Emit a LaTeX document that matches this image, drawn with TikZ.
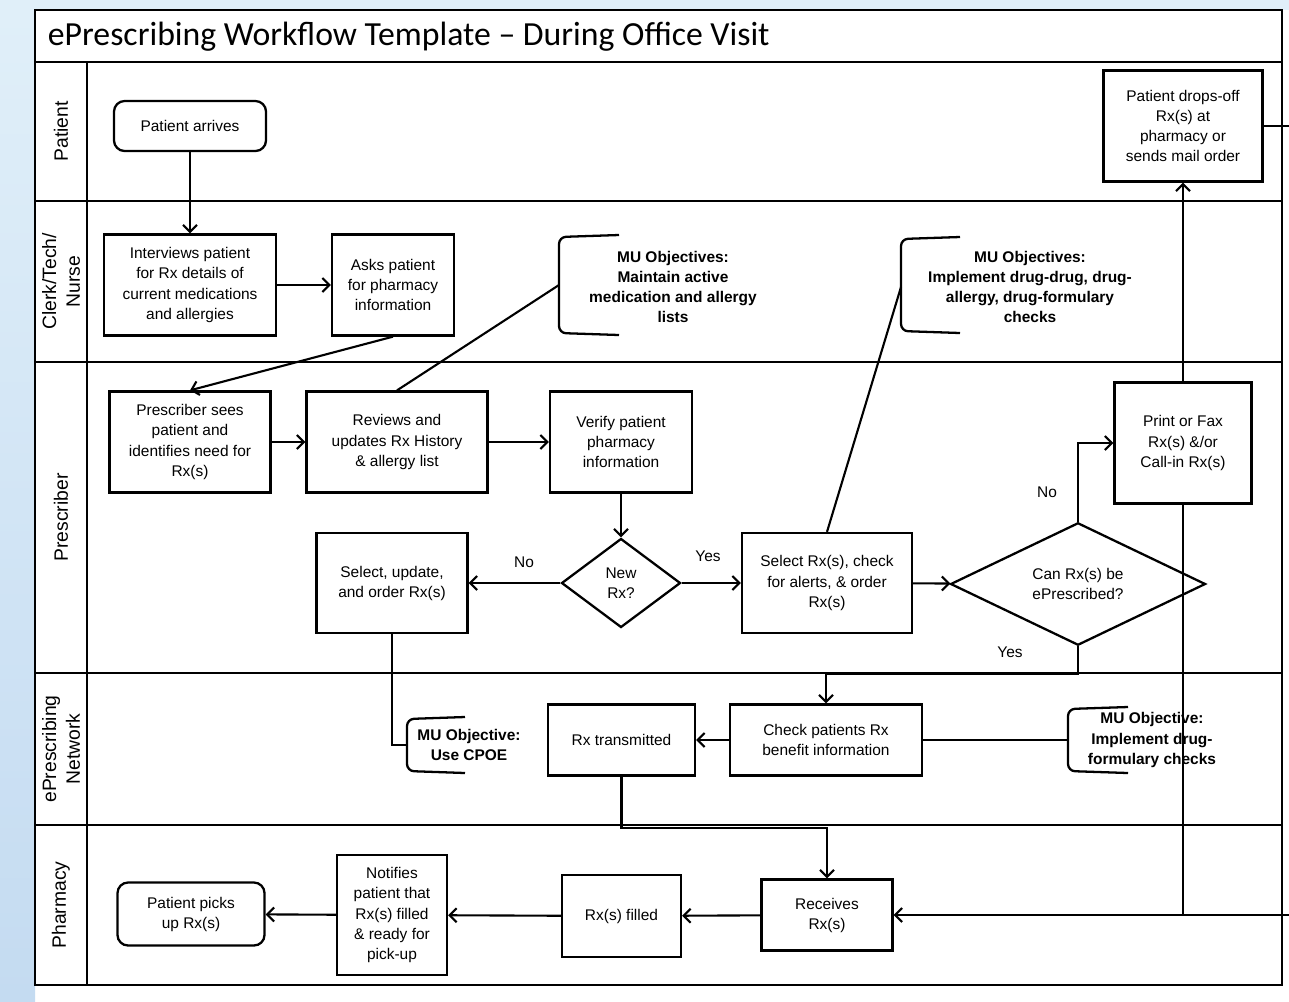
\documentclass[tikz,border=0pt]{standalone}
\usepackage{fontspec}
\setmainfont{Liberation Sans}
\newfontfamily\titlefont{Carlito}
\usetikzlibrary{arrows.meta,shapes.geometric}

\definecolor{pagebg}{RGB}{224,239,249}
\definecolor{pagebgdark}{RGB}{196,219,241}

\newcommand\boxfont{\fontsize{8.8}{11.4}\selectfont}
\newcommand\mufont{\bfseries\fontsize{8.8}{11.4}\selectfont}
\newcommand\lanefont{\fontsize{11}{13.5}\selectfont}

\tikzset{
  box/.style={draw, line width=1.3pt, align=center, font=\boxfont, inner sep=2pt},
  endbox/.style={box, rounded corners=6pt},
  decide/.style={draw, diamond, line width=1.3pt, align=center, font=\boxfont, inner sep=0pt},
  mutext/.style={align=center, font=\mufont},
  lanetext/.style={rotate=90, align=center, font=\lanefont},
  lbl/.style={font=\boxfont},
  lane/.style={line width=1.6pt},
  brace/.style={line width=1.3pt, rounded corners=4pt},
}

\begin{document}
\begin{tikzpicture}[y=-1cm, line width=1.2pt, >={Straight Barb[length=1.4mm,width=2.8mm]}]
	\useasboundingbox (0,0) rectangle (25.78,20.02);
	% page background
	\fill[white] (0,0) rectangle (25.78,20.02);
	\fill[pagebg] (0,0) rectangle (25.78,0.20);
	\shade[top color=pagebg, bottom color=pagebgdark] (0,0.20) rectangle (0.70,20.02);
	
	% Frame, title row and swim lanes
	\draw[lane, fill=white] (0.70,0.20) rectangle (25.64,19.70);
	\draw[lane] (0.70,1.24) -- (25.64,1.24);
	\draw[lane] (1.74,1.24) -- (1.74,19.70);
	\foreach \y in {4.02,7.24,13.46,16.50}
		\draw[lane] (0.70,\y) -- (25.64,\y);
	\node[anchor=west, font=\titlefont\fontsize{19.2}{22}\selectfont] (title) at (0.82,0.74) {ePrescribing Workflow Template – During Office Visit};
	
	\node[lanetext] (lpatient) at (1.22,2.63) {Patient};
	\node[lanetext] (lclerk) at (1.22,5.63) {Clerk/Tech/\\Nurse};
	\node[lanetext] (lpresc) at (1.22,10.35) {Prescriber};
	\node[lanetext] (lnet) at (1.22,14.98) {ePrescribing\\Network};
	\node[lanetext] (lpharm) at (1.22,18.10) {Pharmacy};
	
	% Patient lane
	\node[endbox, minimum width=3.04cm, minimum height=1.00cm] (arrive) at (3.80,2.52) {Patient arrives};
	\node[box, minimum width=3.18cm, minimum height=2.22cm] (drops) at (23.66,2.52) {Patient drops-off\\Rx(s) at\\pharmacy or\\sends mail order};
	
	% Clerk/Tech/Nurse lane
	\node[box, minimum width=3.44cm, minimum height=2.02cm] (interview) at (3.80,5.70) {Interviews patient\\for Rx details of\\current medications\\and allergies};
	\node[box, minimum width=2.44cm, minimum height=2.02cm] (asks) at (7.86,5.70) {Asks patient\\for pharmacy\\information};
	\node[mutext] (obj1) at (13.46,5.74) {MU Objectives:\\Maintain active\\medication and allergy\\lists};
	\draw[brace] (12.38,4.70) -- (11.18,4.74) -- (11.18,6.66) -- (12.38,6.70);
	\coordinate (obj1b) at (11.18,5.70);
	\node[mutext] (obj2) at (20.60,5.74) {MU Objectives:\\Implement drug-drug, drug-\\allergy, drug-formulary\\checks};
	\draw[brace] (19.20,4.74) -- (18.02,4.78) -- (18.02,6.62) -- (19.20,6.66);
	\coordinate (obj2b) at (18.02,5.74);
	
	% Prescriber lane
	\node[box, minimum width=3.22cm, minimum height=2.02cm] (sees) at (3.80,8.84) {Prescriber sees\\patient and\\identifies need for\\Rx(s)};
	\node[box, minimum width=3.62cm, minimum height=2.02cm] (reviews) at (7.94,8.84) {Reviews and\\updates Rx History\\\& allergy list};
	\node[box, minimum width=2.84cm, minimum height=2.02cm] (verify) at (12.42,8.84) {Verify patient\\pharmacy\\information};
	\node[box, minimum width=2.74cm, minimum height=2.42cm] (print) at (23.66,8.86) {Print or Fax\\Rx(s) \&/or\\Call-in Rx(s)};
	\node[decide, minimum width=2.38cm, minimum height=1.78cm] (newrx) at (12.42,11.66) {New\\Rx?};
	\node[box, minimum width=3.02cm, minimum height=2.00cm] (selupd) at (7.84,11.66) {Select, update,\\and order Rx(s)};
	\node[box, minimum width=3.40cm, minimum height=2.00cm] (selrx) at (16.54,11.66) {Select Rx(s), check\\for alerts, \& order\\Rx(s)};
	\node[decide, minimum width=5.10cm, minimum height=2.44cm] (canrx) at (21.56,11.68) {Can Rx(s) be\\ePrescribed?};
	\node[lbl] (lno1) at (10.48,11.24) {No};
	\node[lbl] (lyes1) at (14.16,11.12) {Yes};
	\node[lbl] (lno2) at (20.94,9.84) {No};
	\node[lbl] (lyes2) at (20.20,13.04) {Yes};
	
	% ePrescribing Network lane
	\node[box, minimum width=3.84cm, minimum height=1.42cm] (check) at (16.52,14.80) {Check patients Rx\\benefit information};
	\node[box, minimum width=2.94cm, minimum height=1.42cm] (transm) at (12.43,14.80) {Rx transmitted};
	\node[mutext] (obj3) at (9.38,14.90) {MU Objective:\\Use CPOE};
	\draw[brace] (9.30,14.34) -- (8.14,14.38) -- (8.14,15.42) -- (9.30,15.46);
	\coordinate (obj3b) at (8.14,14.90);
	\node[mutext] (obj4) at (23.04,14.80) {MU Objective:\\Implement drug-\\formulary checks};
	\draw[brace] (22.56,14.14) -- (21.36,14.18) -- (21.36,15.42) -- (22.56,15.46);
	\coordinate (obj4b) at (21.36,14.80);
	
	% Pharmacy lane
	\node[box, minimum width=2.62cm, minimum height=1.42cm] (receives) at (16.54,18.30) {Receives\\Rx(s)};
	\node[box, minimum width=2.38cm, minimum height=1.64cm] (filled) at (12.43,18.32) {Rx(s) filled};
	\node[box, minimum width=2.20cm, minimum height=2.40cm] (notifies) at (7.84,18.30) {Notifies\\patient that\\Rx(s) filled\\\& ready for\\pick-up};
	\node[endbox, minimum width=2.94cm, minimum height=1.26cm] (picks) at (3.82,18.28) {Patient picks\\up Rx(s)};
	
	% loose ends at the right edge
	\coordinate (outA) at (25.78,2.52);
	\coordinate (inB) at (25.78,18.30);
	
	% Flow
	\draw[->] (arrive) -- (interview);
	\draw[->] (interview) -- (asks);
	\draw[->] (asks.south) -- (sees.north);
	\draw (reviews.north) -- (obj1b);
	\draw (selrx.north) -- (obj2b);
	\draw[->] (sees) -- (reviews);
	\draw[->] (reviews) -- (verify);
	\draw[->] (verify) -- (newrx);
	\draw[->] (newrx) -- (selupd);
	\draw[->] (newrx) -- (selrx);
	\draw[->] (selrx) -- (canrx);
	\draw[->] (canrx.north) |- (print.west);
	\draw[->] (canrx.south) -- ++(0,0.56) -| (check.north);
	\draw[->] (print) -- (drops);
	\draw (drops.east) -- (outA);
	\draw (print.south) -- (print.south |- receives.east);
	\draw[->] (inB) -- (receives.east);
	\draw (selupd.south) |- (obj3b);
	\draw[->] (check) -- (transm);
	\draw (check) -- (obj4b);
	\draw[->] (transm.south) -- ++(0,1.03) -| (receives.north);
	\draw[->] (receives) -- (filled);
	\draw[->] (filled) -- (notifies);
	\draw[->] (notifies) -- (picks);
\end{tikzpicture}
\end{document}
